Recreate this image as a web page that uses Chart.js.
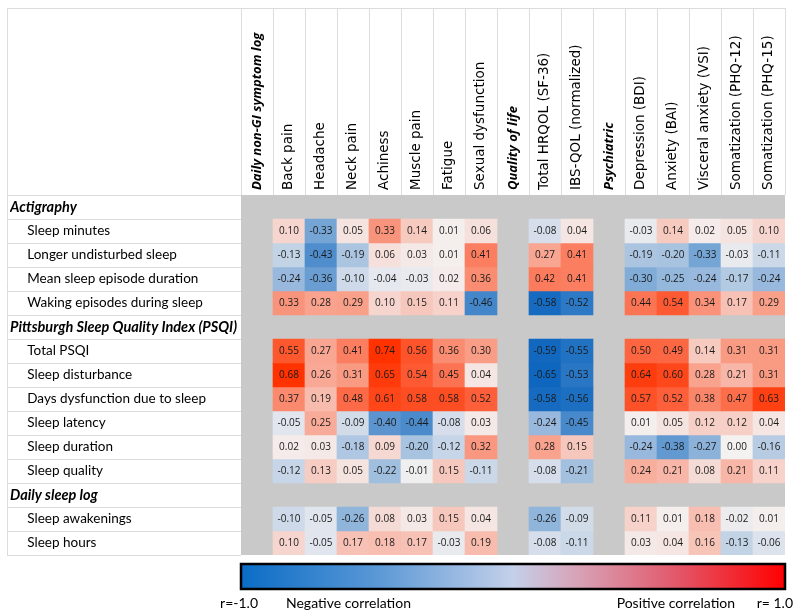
<!DOCTYPE html>
<html>
<head>
<meta charset="utf-8">
<script src="https://cdn.jsdelivr.net/npm/chart.js@4/dist/chart.umd.min.js"></script>
<style>
  body { margin: 0; background: #fff; }
  canvas { display: block; }
</style>
</head>
<body>
<canvas id="heatmap" width="800" height="612"></canvas>
<script>
// ==============================
// DATA
// ==============================

const symptomCols = ['Back pain', 'Headache', 'Neck pain', 'Achiness', 'Muscle pain', 'Fatigue', 'Sexual dysfunction'];
const qolCols = ['Total HRQOL (SF-36)', 'IBS-QOL (normalized)'];
const psychCols = ['Depression (BDI)', 'Anxiety (BAI)', 'Visceral anxiety (VSI)', 'Somatization (PHQ-12)', 'Somatization (PHQ-15)'];
const colSections = ['Daily non-GI symptom log', 'Quality of life', 'Psychiatric'];

const actigraphyRows = ['Sleep minutes', 'Longer undisturbed sleep', 'Mean sleep episode duration', 'Waking episodes during sleep'];
const psqiRows = ['Total PSQI', 'Sleep disturbance', 'Days dysfunction due to sleep', 'Sleep latency', 'Sleep duration', 'Sleep quality'];
const sleepLogRows = ['Sleep awakenings', 'Sleep hours'];
const rowSections = ['Actigraphy', 'Pittsburgh Sleep Quality Index (PSQI)', 'Daily sleep log'];

// each row: 7 symptom values, 2 quality of life values, 5 psychiatric values
const actigraphyValues = [
    [0.10, -0.33, 0.05, 0.33, 0.14, 0.01, 0.06, -0.08, 0.04, -0.03, 0.14, 0.02, 0.05, 0.10],
    [-0.13, -0.43, -0.19, 0.06, 0.03, 0.01, 0.41, 0.27, 0.41, -0.19, -0.20, -0.33, -0.03, -0.11],
    [-0.24, -0.36, -0.10, -0.04, -0.03, 0.02, 0.36, 0.42, 0.41, -0.30, -0.25, -0.24, -0.17, -0.24],
    [0.33, 0.28, 0.29, 0.10, 0.15, 0.11, -0.46, -0.58, -0.52, 0.44, 0.54, 0.34, 0.17, 0.29]
];
const psqiValues = [
    [0.55, 0.27, 0.41, 0.74, 0.56, 0.36, 0.30, -0.59, -0.55, 0.50, 0.49, 0.14, 0.31, 0.31],
    [0.68, 0.26, 0.31, 0.65, 0.54, 0.45, 0.04, -0.65, -0.53, 0.64, 0.60, 0.28, 0.21, 0.31],
    [0.37, 0.19, 0.48, 0.61, 0.58, 0.58, 0.52, -0.58, -0.56, 0.57, 0.52, 0.38, 0.47, 0.63],
    [-0.05, 0.25, -0.09, -0.40, -0.44, -0.08, 0.03, -0.24, -0.45, 0.01, 0.05, 0.12, 0.12, 0.04],
    [0.02, 0.03, -0.18, 0.09, -0.20, -0.12, 0.32, 0.28, 0.15, -0.24, -0.38, -0.27, 0.00, -0.16],
    [-0.12, 0.13, 0.05, -0.22, -0.01, 0.15, -0.11, -0.08, -0.21, 0.24, 0.21, 0.08, 0.21, 0.11]
];
const sleepLogValues = [
    [-0.10, -0.05, -0.26, 0.08, 0.03, 0.15, 0.04, -0.26, -0.09, 0.11, 0.01, 0.18, -0.02, 0.01],
    [0.10, -0.05, 0.17, 0.18, 0.17, -0.03, 0.19, -0.08, -0.11, 0.03, 0.04, 0.16, -0.13, -0.06]
];

// ==============================
// BUILD TABLE STRUCTURE
// ==============================

const columns = [colSections[0], ...symptomCols, colSections[1], ...qolCols, colSections[2], ...psychCols];
const sectionColIdx = [0, 1 + symptomCols.length, 2 + symptomCols.length + qolCols.length];

const rowLabels = [];
const sectionRowIdx = [];
const dataRows = []; // { row, values }
[[rowSections[0], actigraphyRows, actigraphyValues],
 [rowSections[1], psqiRows, psqiValues],
 [rowSections[2], sleepLogRows, sleepLogValues]].forEach(([title, names, vals]) => {
    sectionRowIdx.push(rowLabels.length);
    rowLabels.push(title);
    names.forEach((n, i) => {
        dataRows.push({ row: rowLabels.length, values: vals[i] });
        rowLabels.push(n);
    });
});

function cellColor(v) {
    const base = [244, 241, 241];
    const pos = [255, 50, 0];
    const neg = [14, 102, 190];
    const t = v >= 0 ? Math.min(v / 0.68, 1) : Math.min(-v / 0.6, 1);
    const to = v >= 0 ? pos : neg;
    const c = base.map((b, i) => Math.round(b + (to[i] - b) * t));
    return `rgb(${c[0]},${c[1]},${c[2]})`;
}

// spread a 14-value row over the 17 columns (null under section columns)
function spread(values) {
    const out = [];
    let k = 0;
    columns.forEach((c, ci) => {
        if (sectionColIdx.includes(ci)) out.push(null);
        else out.push(values[k++]);
    });
    return out;
}

const datasets = dataRows.map(dr => {
    const vals = spread(dr.values);
    return {
        label: rowLabels[dr.row],
        data: vals.map(v => v === null ? null : [dr.row, dr.row + 1]),
        cellValues: vals,
        backgroundColor: vals.map(v => v === null ? 'rgba(0,0,0,0)' : cellColor(v)),
        borderWidth: 0,
        grouped: false,
        barPercentage: 1,
        categoryPercentage: 1
    };
});

// ==============================
// PLUGINS
// ==============================

const tableLines = {
    id: 'tableLines',
    beforeDatasetsDraw(chart) {
        const { ctx, chartArea } = chart;
        ctx.save();
        ctx.fillStyle = '#c9c9c9';
        ctx.fillRect(chartArea.left, chartArea.top, chartArea.right - chartArea.left, chartArea.bottom - chartArea.top);
        ctx.restore();
    },
    afterDraw(chart) {
        const { ctx, chartArea, scales } = chart;
        const x = scales.x, y = scales.y;
        const left = 7, top = 8;
        ctx.save();
        ctx.strokeStyle = '#dcdcdc';
        ctx.lineWidth = 1;
        ctx.beginPath();
        // header box + vertical column separators
        ctx.moveTo(left, top + 0.5); ctx.lineTo(chartArea.right, top + 0.5);
        ctx.moveTo(left + 0.5, top); ctx.lineTo(left + 0.5, chartArea.bottom);
        const step = x.getPixelForValue(1) - x.getPixelForValue(0);
        for (let k = 0; k <= columns.length; k++) {
            const px = Math.round(x.getPixelForValue(0) - step / 2 + k * step) + 0.5;
            ctx.moveTo(px, top); ctx.lineTo(px, chartArea.top);
        }
        // row separators in the label column
        for (let k = 0; k <= rowLabels.length; k++) {
            const py = Math.round(y.getPixelForValue(k)) + 0.5;
            ctx.moveTo(left, py); ctx.lineTo(chartArea.left, py);
        }
        ctx.stroke();

        // colour bar
        const cbL = chartArea.left, cbR = chartArea.right, cbT = 564, cbB = 589;
        const grad = ctx.createLinearGradient(cbL, 0, cbR, 0);
        grad.addColorStop(0, '#0b6cc6');
        grad.addColorStop(0.25, '#5a98d6');
        grad.addColorStop(0.5, '#c4d0ea');
        grad.addColorStop(0.62, '#d8a2b6');
        grad.addColorStop(0.8, '#e2586a');
        grad.addColorStop(1, '#ff0000');
        ctx.fillStyle = grad;
        ctx.fillRect(cbL, cbT, cbR - cbL, cbB - cbT);
        ctx.strokeStyle = '#000';
        ctx.lineWidth = 2.5;
        ctx.strokeRect(cbL, cbT, cbR - cbL, cbB - cbT);

        ctx.fillStyle = '#000';
        ctx.font = '14px Lato';
        ctx.textBaseline = 'middle';
        ctx.textAlign = 'right';
        ctx.fillText('r=-1.0', cbL + 17, 603);
        ctx.fillText('Positive correlation', cbR - 50, 603);
        ctx.fillText('r= 1.0', 793, 603);
        ctx.textAlign = 'left';
        ctx.fillText('Negative correlation', cbL + 45, 603);
        ctx.restore();
    }
};

const cellLabels = {
    id: 'cellLabels',
    afterDatasetsDraw(chart) {
        const { ctx } = chart;
        ctx.save();
        ctx.fillStyle = '#1a1a1a';
        ctx.font = '10px "Open Sans"';
        ctx.textAlign = 'center';
        ctx.textBaseline = 'middle';
        chart.data.datasets.forEach((ds, di) => {
            const meta = chart.getDatasetMeta(di);
            meta.data.forEach((el, i) => {
                const v = ds.cellValues[i];
                if (v === null) return;
                ctx.fillText(v.toFixed(2), el.x, (el.y + el.base) / 2 + 0.5);
            });
        });
        ctx.restore();
    }
};

// ==============================
// CHART
// ==============================

const heatCtx = document.getElementById('heatmap').getContext('2d');
new Chart(heatCtx, {
    type: 'bar',
    data: {
        labels: columns,
        datasets: datasets
    },
    options: {
        responsive: false,
        animation: false,
        devicePixelRatio: 1,
        layout: { padding: { left: 10, top: 8, right: 15, bottom: 57 } },
        plugins: {
            legend: { display: false },
            tooltip: { enabled: false }
        },
        scales: {
            x: {
                type: 'category',
                position: 'top',
                offset: true,
                grid: { display: false, drawTicks: false },
                border: { display: false },
                ticks: {
                    autoSkip: false,
                    minRotation: 90,
                    maxRotation: 90,
                    padding: 5,
                    labelOffset: 16,
                    color: '#000',
                    font: (c) => sectionColIdx.includes(c.index)
                        ? { family: 'Open Sans', size: 13, style: 'italic', weight: 'bold' }
                        : { family: 'DejaVu Sans', size: 13.5 }
                },
                afterFit: (s) => { s.height = 187; }
            },
            y: {
                type: 'linear',
                min: 0,
                max: rowLabels.length,
                reverse: true,
                grid: { display: false, drawTicks: false },
                border: { display: false },
                afterBuildTicks: (s) => {
                    s.ticks = rowLabels.map((_, i) => ({ value: i + 0.5 }));
                },
                ticks: {
                    crossAlign: 'far',
                    padding: 0,
                    color: '#000',
                    callback: (v, i) => sectionRowIdx.includes(i) ? rowLabels[i] : '     ' + rowLabels[i],
                    font: (c) => sectionRowIdx.includes(c.index)
                        ? { family: 'Lato', size: 14.5, style: 'italic', weight: 'bold' }
                        : { family: 'Lato', size: 13.5 }
                },
                afterFit: (s) => { s.width = 231; }
            }
        }
    },
    plugins: [tableLines, cellLabels]
});
</script>
</body>
</html>
